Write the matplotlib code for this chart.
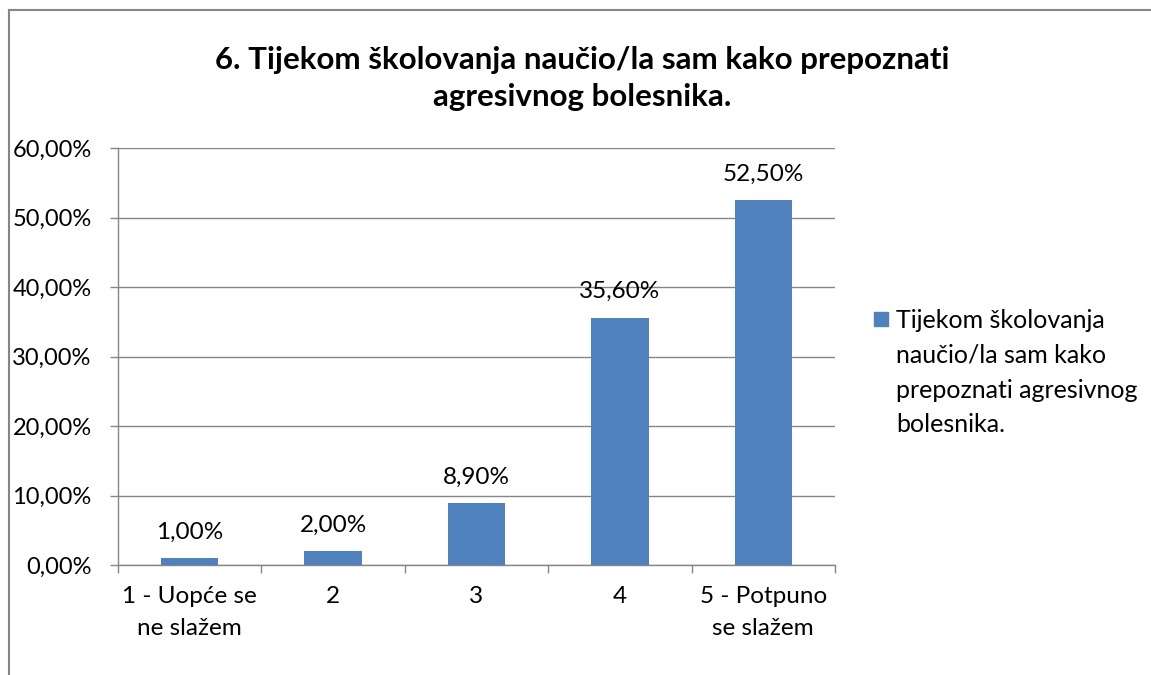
import matplotlib
matplotlib.use('Agg')
from matplotlib import pyplot as plt
from matplotlib.lines import Line2D
from matplotlib.patches import Rectangle

# podaci
categories = ['1 - Uopće se\nne slažem', '2', '3', '4', '5 - Potpuno\nse slažem']
values = [1.00, 2.00, 8.90, 35.60, 52.50]
title = '6. Tijekom školovanja naučio/la sam kako prepoznati\nagresivnog bolesnika.'
series_name = 'Tijekom školovanja\nnaučio/la sam kako\nprepoznati agresivnog\nbolesnika.'
y_ticks = [0, 10, 20, 30, 40, 50, 60]

bar_color = '#4F81BD'
grey = '#868686'
fs = 17.5

plt.rcParams['font.family'] = ['Lato', 'DejaVu Sans']

fig = plt.figure(figsize=(11.51, 6.75), dpi=100)
ax = fig.add_axes([118 / 1151, 1 - 565 / 675, (835 - 118) / 1151, (565 - 148) / 675])

x = list(range(len(values)))
bars = ax.bar(x, values, width=0.4, color=bar_color, zorder=3)

# etichette sopra le barre
for xi, v in zip(x, values):
    ax.annotate(f'{v:.2f}%'.replace('.', ','), (xi, v), xytext=(0, 11),
                textcoords='offset points', ha='center', va='bottom',
                fontsize=fs, color='black')

ax.set_xlim(-0.5, len(values) - 0.5)
ax.set_ylim(0, 60)
ax.set_yticks(y_ticks)
ax.set_yticklabels([f'{t:.2f}%'.replace('.', ',') for t in y_ticks])
ax.grid(axis='y', color=grey, linewidth=1.0, zorder=0)

# tick tra le categorie, etichette al centro
ax.set_xticks([i - 0.5 for i in range(len(values) + 1)])
ax.set_xticklabels([])
ax.set_xticks(x, minor=True)
ax.set_xticklabels(categories, minor=True, fontsize=fs, linespacing=1.65)
ax.tick_params(axis='x', which='major', length=6, width=1.0, color=grey, direction='out')
ax.tick_params(axis='x', which='minor', length=0, pad=15)
ax.tick_params(axis='y', length=6, width=1.0, color=grey, pad=13, labelsize=17)

for s in ['top', 'right']:
    ax.spines[s].set_visible(False)
for s in ['left', 'bottom']:
    ax.spines[s].set_color(grey)
    ax.spines[s].set_linewidth(1.0)

fig.text(0.506, 0.884, title, ha='center', va='center', fontsize=22.5,
         fontweight='bold', linespacing=1.4)

# legenda
fig.add_artist(Rectangle((874 / 1151, 1 - 326 / 675), 14 / 1151, 14 / 675,
                         transform=fig.transFigure, color=bar_color))
fig.text(896 / 1151, 1 - 309 / 675, series_name, ha='left', va='top',
         fontsize=18, linespacing=1.62)

# cornice
fig.add_artist(Line2D([9 / 1151, 1], [1 - 10 / 675, 1 - 10 / 675],
                      transform=fig.transFigure, color=grey, linewidth=1.5))
fig.add_artist(Line2D([9 / 1151, 9 / 1151], [1 - 10 / 675, 0],
                      transform=fig.transFigure, color=grey, linewidth=1.5))

fig.savefig('out.png', dpi=100)
